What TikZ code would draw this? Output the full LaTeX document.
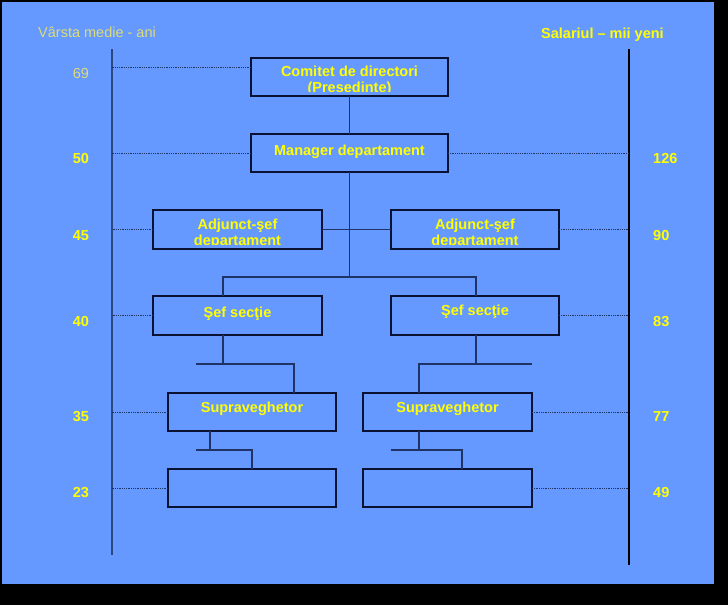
\documentclass[tikz,border=0pt]{standalone}
\usepackage{fontspec}
\setmainfont{Liberation Sans}
\definecolor{bgblue}{HTML}{6699FF}
\definecolor{linec}{HTML}{1F3366}
\definecolor{boxc}{HTML}{0A1233}
\definecolor{ylw}{HTML}{FFFF00}
\definecolor{paley}{HTML}{DCDC78}
\tikzset{
  box/.style 2 args={draw=boxc, line width=1.1pt, inner sep=0pt, outer sep=0pt, minimum width=#1pt, minimum height=#2pt},
  txt/.style={draw=none, fill=none, inner sep=0pt, minimum width=0pt, minimum height=0pt, text=ylw, align=center, font=\fontsize{14.5}{16}\selectfont\bfseries},
  num/.style={text=ylw, inner sep=0pt, font=\fontsize{14.5}{16}\selectfont\bfseries},
  conn/.style={draw=linec, line width=1.1pt},
  dotl/.style={draw=linec, line width=0.8pt, densely dotted},
}
\begin{document}
\begin{tikzpicture}[x=1pt,y=-1pt]
\fill[black] (0,0) rectangle (728,605);
\fill[bgblue] (2,2) rectangle (714,584);
\useasboundingbox (0,0) rectangle (728,605);

% axes
\coordinate (axLt) at (112,49);
\coordinate (axLb) at (112,555);
\coordinate (axRt) at (629,49);
\coordinate (axRb) at (629,565);
\draw[draw=linec!80!bgblue, line width=1.3pt] (axLt) -- (axLb);
\draw[draw=black, line width=1.1pt] (axRt) -- (axRb);

% titles
\begin{scope}
\clip (20,10) rectangle (200,36);
\node[anchor=base west, inner sep=0pt, text=paley, font=\fontsize{14.5}{16}\selectfont] (tl) at (38,37.5) {Vârsta medie - ani};
\end{scope}
\node[num, anchor=base west] (tr) at (541,38) {Salariul – mii yeni};

% boxes
\node[box={197}{38}, path picture={\clip ([yshift=4.5pt]path picture bounding box.south west) rectangle (path picture bounding box.north east); \node[txt, yshift=-4pt] at (path picture bounding box.center) {Comitet de directori\\(Presedinte)};}] (c) at (349.5,77) {};
\node[box={197}{38}, path picture={\node[txt, yshift=1pt] at (path picture bounding box.center) {Manager departament};}] (m) at (349.5,153) {};
\node[box={169}{39}, path picture={\clip ([yshift=4.5pt]path picture bounding box.south west) rectangle (path picture bounding box.north east); \node[txt, yshift=-4.5pt] at (path picture bounding box.center) {Adjunct-şef\\departament};}] (a1) at (237.5,229.5) {};
\node[box={168}{39}, path picture={\clip ([yshift=4.5pt]path picture bounding box.south west) rectangle (path picture bounding box.north east); \node[txt, yshift=-4.5pt] at (path picture bounding box.center) {Adjunct-şef\\departament};}] (a2) at (475,229.5) {};
\node[box={169}{39}, path picture={\node[txt, yshift=1.5pt] at (path picture bounding box.center) {Şef secţie};}] (s1) at (237.5,315.5) {};
\node[box={168}{39}, path picture={\node[txt, yshift=3.5pt] at (path picture bounding box.center) {Şef secţie};}] (s2) at (475,315.5) {};
\node[box={168}{38}, path picture={\node[txt, yshift=3.5pt] at (path picture bounding box.center) {Supraveghetor};}] (v1) at (252,412) {};
\node[box={169}{38}, path picture={\node[txt, yshift=3.5pt] at (path picture bounding box.center) {Supraveghetor};}] (v2) at (447.5,412) {};
\node[box={168}{38}] (e1) at (252,488) {};
\node[box={169}{38}] (e2) at (447.5,488) {};

% connectors
\coordinate (j0) at (349.5,277);
\coordinate (j1l) at (223,277);
\coordinate (j1r) at (476,277);
\draw[conn] (c.south) -- (m.north);
\draw[conn] (m.south) -- (j0);
\draw[conn] (a1.east) -- (a2.west);
\draw[conn] (s1.north -| j1l) -- (j1l) -- (j1r) -- (s2.north -| j1r);

\coordinate (k1) at (223,364);
\coordinate (k1a) at (196,364);
\coordinate (k1b) at (294,364);
\draw[conn] (s1.south -| k1) -- (k1);
\draw[conn] (k1a) -- (k1b) -- (v1.north -| k1b);

\coordinate (k2) at (476,364);
\coordinate (k2a) at (419,364);
\coordinate (k2b) at (532,364);
\draw[conn] (s2.south -| k2) -- (k2);
\draw[conn] (k2b) -- (k2a) -- (v2.north -| k2a);

\coordinate (l1) at (210,450);
\coordinate (l1a) at (196,450);
\coordinate (l1b) at (252,450);
\draw[conn] (v1.south -| l1) -- (l1);
\draw[conn] (l1a) -- (l1b) -- (e1.north -| l1b);

\coordinate (l2) at (419,450);
\coordinate (l2a) at (391,450);
\coordinate (l2b) at (462,450);
\draw[conn] (v2.south -| l2) -- (l2);
\draw[conn] (l2a) -- (l2b) -- (e2.north -| l2b);

% dotted level lines
\draw[dotl] ([yshift=10pt]c.west) -- ([yshift=10pt]c.west -| axLt);
\draw[dotl] (m.west) -- (m.west -| axLt);
\draw[dotl] (a1.west) -- (a1.west -| axLt);
\draw[dotl] (s1.west) -- (s1.west -| axLt);
\draw[dotl] (v1.west) -- (v1.west -| axLt);
\draw[dotl] (e1.west) -- (e1.west -| axLt);
\draw[dotl] (m.east) -- (m.east -| axRt);
\draw[dotl] (a2.east) -- (a2.east -| axRt);
\draw[dotl] (s2.east) -- (s2.east -| axRt);
\draw[dotl] (v2.east) -- (v2.east -| axRt);
\draw[dotl] (e2.east) -- (e2.east -| axRt);

% numbers
\node[inner sep=0pt, text=paley, font=\fontsize{14.5}{16}\selectfont] (n69) at (81,73.5) {69};
\node[num] (n50) at (81,158.5) {50};
\node[num] (n45) at (81,235.5) {45};
\node[num] (n40) at (81,321.5) {40};
\node[num] (n35) at (81,416.5) {35};
\node[num] (n23) at (81,492.5) {23};
\node[num, anchor=west] (r126) at (653,158.5) {126};
\node[num, anchor=west] (r90) at (653,235.5) {90};
\node[num, anchor=west] (r83) at (653,321.5) {83};
\node[num, anchor=west] (r77) at (653,416.5) {77};
\node[num, anchor=west] (r49) at (653,492.5) {49};
\end{tikzpicture}
\end{document}
